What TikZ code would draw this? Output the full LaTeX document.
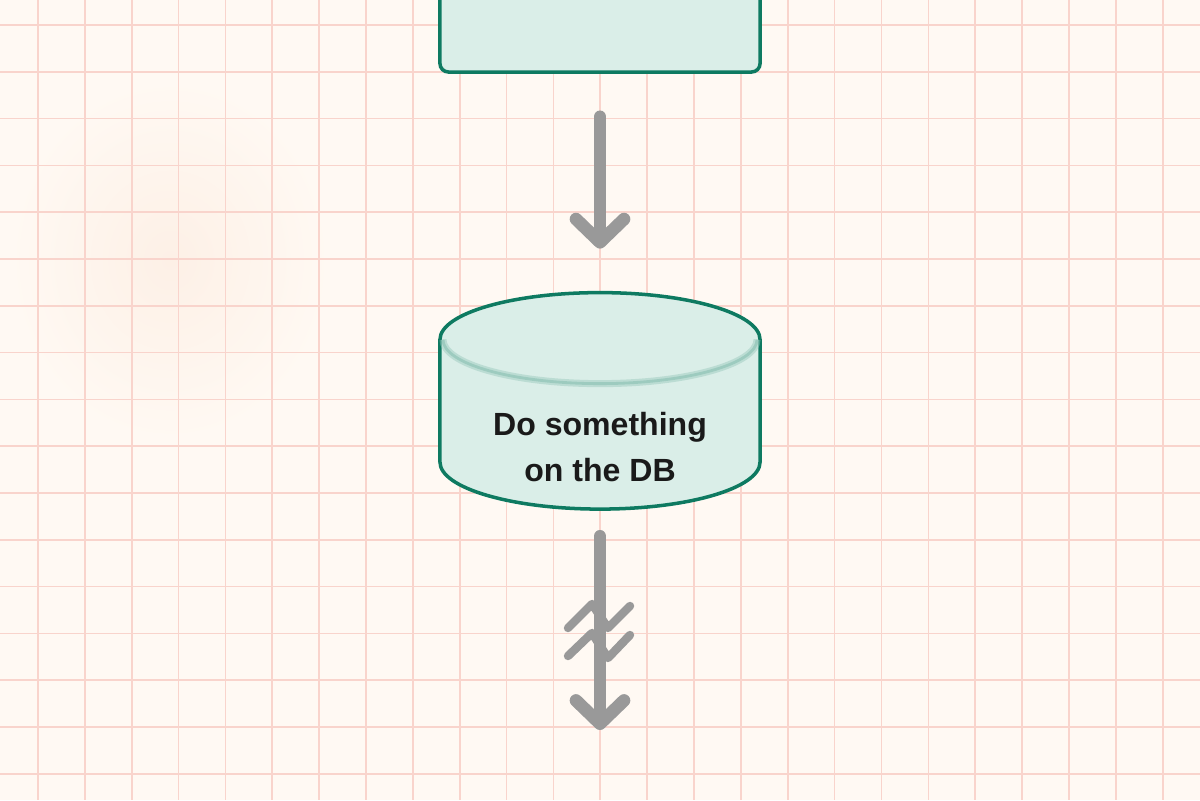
\documentclass[tikz,border=0pt]{standalone}
\usepackage{fontspec}
\setmainfont{Liberation Sans}
\usetikzlibrary{positioning, arrows.meta, calc}
\definecolor{paper}{HTML}{FFF9F3}
\definecolor{paperstain}{HTML}{FDF0E6}
\definecolor{gridline}{HTML}{F9D4CC}
\definecolor{tealedge}{HTML}{0E7A61}
\definecolor{tealfill}{HTML}{DAEEE8}
\definecolor{tealshade}{HTML}{96C7BB}
\definecolor{flowgray}{HTML}{999999}
\definecolor{inktext}{HTML}{1A1A1A}
\tikzset{
    gridrule/.style={draw=gridline, line width=1.2pt},
    stepbox/.style={rectangle, rounded corners=6pt, draw=tealedge, fill=tealfill, line width=2.5pt, outer sep=0pt, minimum width=8cm},
    dbframe/.style={rectangle, outer sep=0pt, minimum width=8cm, minimum height=5.41cm},
    dbtext/.style={font=\bfseries\fontsize{22.8pt}{32.7pt}\selectfont, text=inktext, align=center},
    flow/.style={draw=flowgray, line width=9pt, line cap=round, -{Straight Barb[round, length=0.58cm, width=1.2cm]}},
    breakmark/.style={draw=flowgray, line width=6pt, line cap=round, line join=round}
}
\begin{document}
\begin{tikzpicture}[x=0.025cm, y=-0.025cm]
    \useasboundingbox (0,0) rectangle (1200,800);
    % paper and grid
    \fill[paper] (0,0) rectangle (1200,800);
    \shade[inner color=paperstain, outer color=paper] (170,260) ellipse[x radius=4cm, y radius=4.5cm];
    \foreach \gx in {0,...,24}
        \draw[gridrule] (38+46.86*\gx,0) -- (38+46.86*\gx,800);
    \foreach \gy in {0,...,16}
        \draw[gridrule] (0,25+46.8*\gy) -- (1200,25+46.8*\gy);

    % nodes
    \node[stepbox, minimum height=3.3cm] (src) at (600,6) {};
    \node[dbframe] (db) at (600,400.85) {};
    \coordinate (sink) at (600,730);
    \coordinate (brk) at (600,630);

    % cylinder
    \draw[tealedge, fill=tealfill, line width=2.5pt]
        ($(db.north west)+(0,47)$) -- ($(db.south west)+(0,-47)$)
        arc[start angle=180, end angle=360, x radius=4cm, y radius=1.175cm]
        -- ($(db.north east)+(0,47)$)
        arc[start angle=0, end angle=180, x radius=4cm, y radius=1.175cm] -- cycle;
    \draw[tealshade, line width=5pt, opacity=0.45]
        ($(db.north west)+(3,47)$) arc[start angle=180, end angle=360, x radius=3.925cm, y radius=1.1cm];
    \draw[tealshade, line width=2pt, opacity=0.8]
        ($(db.north west)+(3,47)$) arc[start angle=180, end angle=360, x radius=3.925cm, y radius=1.1cm];
    \node[dbtext] (dblabel) at ($(db.center)+(0,46)$) {Do something\\on the DB};

    % connectors
    \draw[flow, shorten <=1.12cm, shorten >=1.1cm] (src.south) -- (db.north);
    \draw[flow, shorten <=0.68cm] (db.south) -- (sink);
    \draw[breakmark] ($(brk)+(-32,-2)$) -- ++(24,-24) -- ++(16,24) -- ++(22,-22);
    \draw[breakmark] ($(brk)+(-32,26)$) -- ++(24,-23) -- ++(16,25) -- ++(22,-23);
\end{tikzpicture}
\end{document}
